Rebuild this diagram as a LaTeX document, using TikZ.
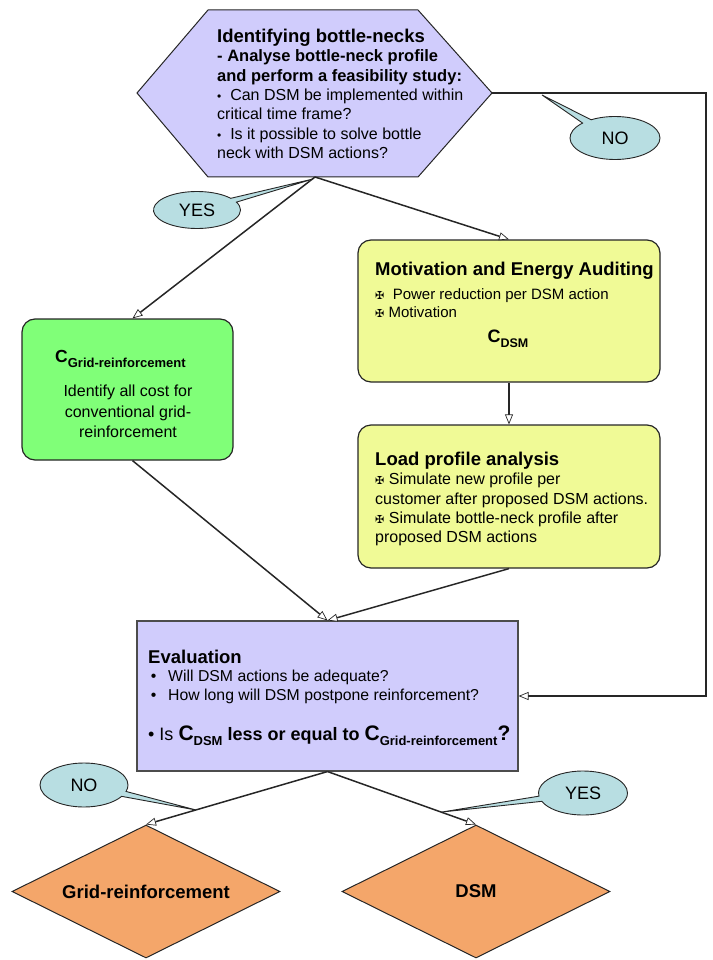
\documentclass[tikz,border=0pt]{standalone}
\usepackage{fontspec}
\setmainfont{Liberation Sans}
\newfontfamily\symf{DejaVu Sans}
\usetikzlibrary{arrows.meta,shapes.geometric,shapes.callouts}
\definecolor{lav}{RGB}{208,204,252}
\definecolor{grn}{RGB}{128,255,120}
\definecolor{ylw}{RGB}{240,250,150}
\definecolor{org}{RGB}{244,166,106}
\definecolor{cal}{RGB}{184,222,226}
\newcommand{\mx}{{\symf\fontsize{11}{11}\selectfont ✠}}
\newcommand{\Csub}[3]{\textbf{\fontsize{#1}{#1}\selectfont C\raisebox{-5pt}{\fontsize{#2}{#2}\selectfont #3}}}
\begin{document}
\begin{tikzpicture}[x=1pt,y=-1pt,
  conn/.style={draw=black!85, line width=1.5pt, -{Triangle[open,length=10pt,width=8pt,fill=white,line width=0.7pt]}},
  rbox/.style={draw=black!85, line width=1.2pt, rounded corners=13pt, inner sep=0},
  sbox/.style={draw=black!70, line width=1.1pt, inner sep=0},
  dia/.style={diamond, draw=black!85, line width=1pt, fill=org, inner sep=0, minimum width=268pt, minimum height=133pt, font=\bfseries\fontsize{18.5}{18.5}\selectfont},
  bubble/.style={ellipse callout, draw=black!85, line width=0.9pt, fill=cal, inner sep=0, font=\fontsize{18}{18}\selectfont, callout pointer arc=14},
  txt/.style={inner sep=0, anchor=north west, align=left},
  ctxt/.style={inner sep=0, anchor=north, align=center}
]
\useasboundingbox (0,0) rectangle (712,960);

% hexagon
\coordinate (h1) at (208,10);
\coordinate (h2) at (418,10);
\coordinate (hexR) at (492,93);
\coordinate (h4) at (418,177);
\coordinate (h5) at (208,177);
\coordinate (h6) at (137,93);
\coordinate (hexB) at (315,177);
\draw[line width=1pt, draw=black!85, fill=lav] (h1) -- (h2) -- (hexR) -- (h4) -- (h5) -- (h6) -- cycle;
\node[txt, font=\fontsize{16}{19.3}\selectfont] (hext) at (217,29)
 {\textbf{\fontsize{18.5}{19.3}\selectfont Identifying bottle-necks}\\
  \textbf{\fontsize{16.5}{19.3}\selectfont - Analyse bottle-neck profile}\\
  \textbf{\fontsize{16.5}{19.3}\selectfont and perform a feasibility study:}\\
  {\fontsize{12}{12}\selectfont •}\ \ Can DSM be implemented within\\
  critical time frame?\\
  {\fontsize{12}{12}\selectfont •}\ \ Is it possible to solve bottle\\
  neck with DSM actions?};

% boxes
\node[rbox, fill=grn, minimum width=211pt, minimum height=141pt] (grid) at (127.5,389.5) {};
\node[rbox, fill=ylw, minimum width=302pt, minimum height=142pt] (mot) at (509,311) {};
\node[rbox, fill=ylw, minimum width=302pt, minimum height=143pt] (load) at (509,496.5) {};
\node[sbox, fill=lav, minimum width=381pt, minimum height=150pt] (eval) at (327.5,696) {};

% green text
\node[inner sep=0, anchor=base west] (gc) at (55,362) {\Csub{17.5}{13}{Grid-reinforcement}};
\node[ctxt, font=\fontsize{16}{20.5}\selectfont] (gt) at (128,385) {Identify all cost for\\conventional grid-\\reinforcement};

% yellow 1 text
\node[txt, font=\fontsize{15}{18.5}\selectfont] (mt) at (375,262)
 {\textbf{\fontsize{18.5}{19}\selectfont Motivation and Energy Auditing}\\[5pt]
  \mx\ \ Power reduction per DSM action\\
  \mx\ Motivation};
\node[inner sep=0, anchor=base] (mc) at (508,342) {\Csub{18}{12.5}{DSM}};

% yellow 2 text
\node[txt, font=\fontsize{16}{19.3}\selectfont] (lt) at (375,452)
 {\textbf{\fontsize{18.5}{19.3}\selectfont Load profile analysis}\\
  \mx\ Simulate new profile per\\
  customer after proposed DSM actions.\\
  \mx\ Simulate bottle-neck profile after\\
  proposed DSM actions};

% evaluation text
\node[txt, font=\fontsize{15.8}{18.3}\selectfont] (et) at (148,650)
 {\textbf{\fontsize{18.5}{18}\selectfont Evaluation}\\
  \makebox[20pt][l]{\,•}Will DSM actions be adequate?\\
  \makebox[20pt][l]{\,•}How long will DSM postpone reinforcement?};
\node[inner sep=0, anchor=base west, font=\fontsize{18}{18}\selectfont] (eq) at (148,740)
 {• Is \Csub{21}{13}{DSM}\textbf{ less or equal to }\Csub{21}{13}{Grid-reinforcement}\textbf{\fontsize{21}{21}\selectfont ?}};

% diamonds
\node[dia] (gridd) at (146,891.5) {\makebox[0pt]{Grid-reinforcement}};
\node[dia] (dsm) at (476,891.5) {\makebox[0pt]{DSM}};

% connectors
\coordinate (corner) at (706,93);
\draw[conn] (hexB) -- ([xshift=5pt]grid.north);
\draw[conn] (hexB) -- (mot.north);
\draw[conn] (mot.south) -- (load.north);
\draw[conn] ([xshift=5pt]grid.south) -- (eval.north);
\draw[conn] (load.south) -- (eval.north);
\draw[conn] (hexR) -- (corner) |- (eval.east);
\draw[conn] (eval.south) -- (gridd.north);
\draw[conn] (eval.south) -- (dsm.north);

% callouts
\coordinate (p1) at (542,95);
\coordinate (p2) at (313,179);
\coordinate (p3) at (196,810);
\coordinate (p4) at (442,812);
\node[bubble, minimum width=90pt, minimum height=43pt, callout absolute pointer={(p1)}] (no1) at (615,138) {NO};
\node[bubble, minimum width=87pt, minimum height=37pt, callout absolute pointer={(p2)}] (yes1) at (197,210) {YES};
\node[bubble, minimum width=88pt, minimum height=44pt, callout absolute pointer={(p3)}] (no2) at (84,785) {NO};
\node[bubble, minimum width=89pt, minimum height=44pt, callout absolute pointer={(p4)}] (yes2) at (583,793) {YES};
\end{tikzpicture}
\end{document}
